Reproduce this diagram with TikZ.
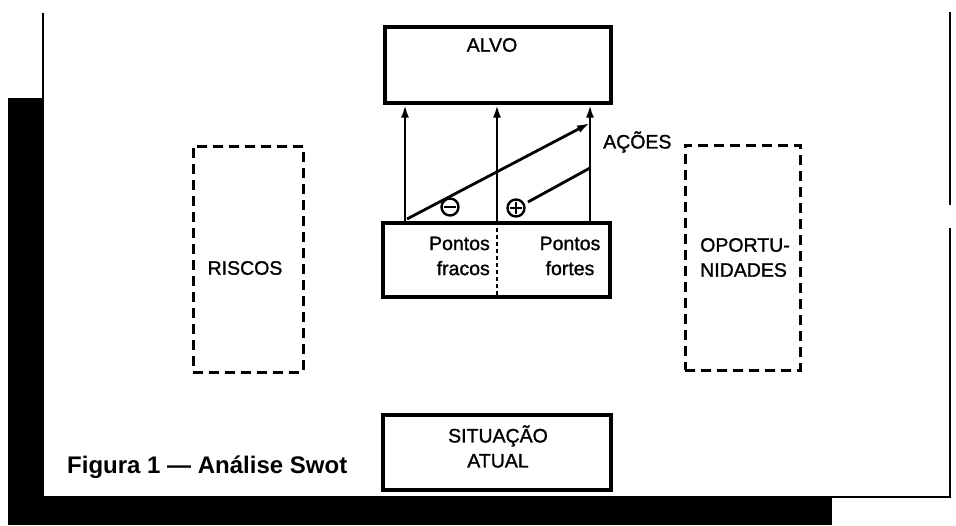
\documentclass[tikz,border=0pt]{standalone}
\usepackage{fontspec}
\setmainfont{Liberation Sans}
\newfontfamily\scanfont{Liberation Sans}[FakeBold=1.2]
\usetikzlibrary{arrows.meta}
\tikzset{
  solidbox/.style={draw, line width=3.2pt, inner sep=0pt},
  dashbox/.style={draw, line width=3pt, dash pattern=on 10pt off 6pt, inner sep=0pt},
  lbl/.style={font=\scanfont\fontsize{19.5}{25}\selectfont, inner sep=0pt, align=center},
  arr/.style={line width=2.8pt, -{Latex[length=13pt,width=8pt]}},
  ln/.style={line width=2.8pt},
  sign/.style={circle, draw, line width=2.4pt, minimum size=17pt, inner sep=0pt},
  frameline/.style={line width=2.8pt}
}
\begin{document}
\begin{tikzpicture}[x=1pt,y=-1pt]
\useasboundingbox (0,0) rectangle (956,525);
% frame
\fill (8,98) rectangle (44,525);
\fill (8,497) rectangle (832,525);
\draw[frameline] (43,13) -- (43,98);
\draw[frameline] (43,497) -- (950,497) -- (950,228);
\draw[frameline] (950,205) -- (950,12);
% boxes
\node[solidbox, minimum width=226pt, minimum height=76pt] (alvo) at (498,65) {};
\node[lbl] at (492,45) {ALVO};
\node[solidbox, minimum width=227pt, minimum height=74pt] (pontos) at (496.5,260) {};
\draw[line width=2.4pt, dash pattern=on 4pt off 3pt] (497,0 |- pontos.north) -- (497,0 |- pontos.south);
\node[lbl, align=right, anchor=east] at (490,256) {Pontos\\fracos};
\node[lbl] at (570,256) {Pontos\\fortes};
\node[solidbox, minimum width=228pt, minimum height=75pt] (sit) at (497,452.5) {};
\node[lbl] at (498,446.5) {SITUAÇÃO\\ATUAL};
\node[dashbox, minimum width=110pt, minimum height=226pt] (riscos) at (248,259) {};
\node[lbl] at (245,268) {RISCOS};
\node[dashbox, minimum width=115pt, minimum height=225pt] (oport) at (742.5,257.5) {};
\node[lbl, align=left] at (745,257.5) {OPORTU-\\NIDADES};
% arrows
\draw[arr] (405,0 |- pontos.north) -- (405,0 |- alvo.south);
\draw[arr] (497,0 |- pontos.north) -- (497,0 |- alvo.south);
\draw[arr] (590,0 |- pontos.north) -- (590,0 |- alvo.south);
\coordinate (dstart) at (407,219);
\coordinate (dend) at (590,123);
\draw[arr] (dstart) -- (dend);
\coordinate (pstart) at (528,202);
\coordinate (pend) at (590,168);
\draw[ln] (pstart) -- (pend);
\node[lbl, anchor=west] (acoes) at (603,142) {AÇÕES};
\node[sign] (minus) at (450,207) {};
\draw[line width=2.4pt] ([xshift=3.5pt]minus.west) -- ([xshift=-3.5pt]minus.east);
\node[sign] (plus) at (516,208) {};
\draw[line width=2.4pt] ([xshift=3.5pt]plus.west) -- ([xshift=-3.5pt]plus.east);
\draw[line width=2.4pt] ([yshift=-3.5pt]plus.north) -- ([yshift=3.5pt]plus.south);
% caption
\node[anchor=base west, inner sep=0pt, font=\bfseries\fontsize{24}{28}\selectfont] (cap) at (67,473) {Figura 1 — Análise Swot};
\end{tikzpicture}
\end{document}
